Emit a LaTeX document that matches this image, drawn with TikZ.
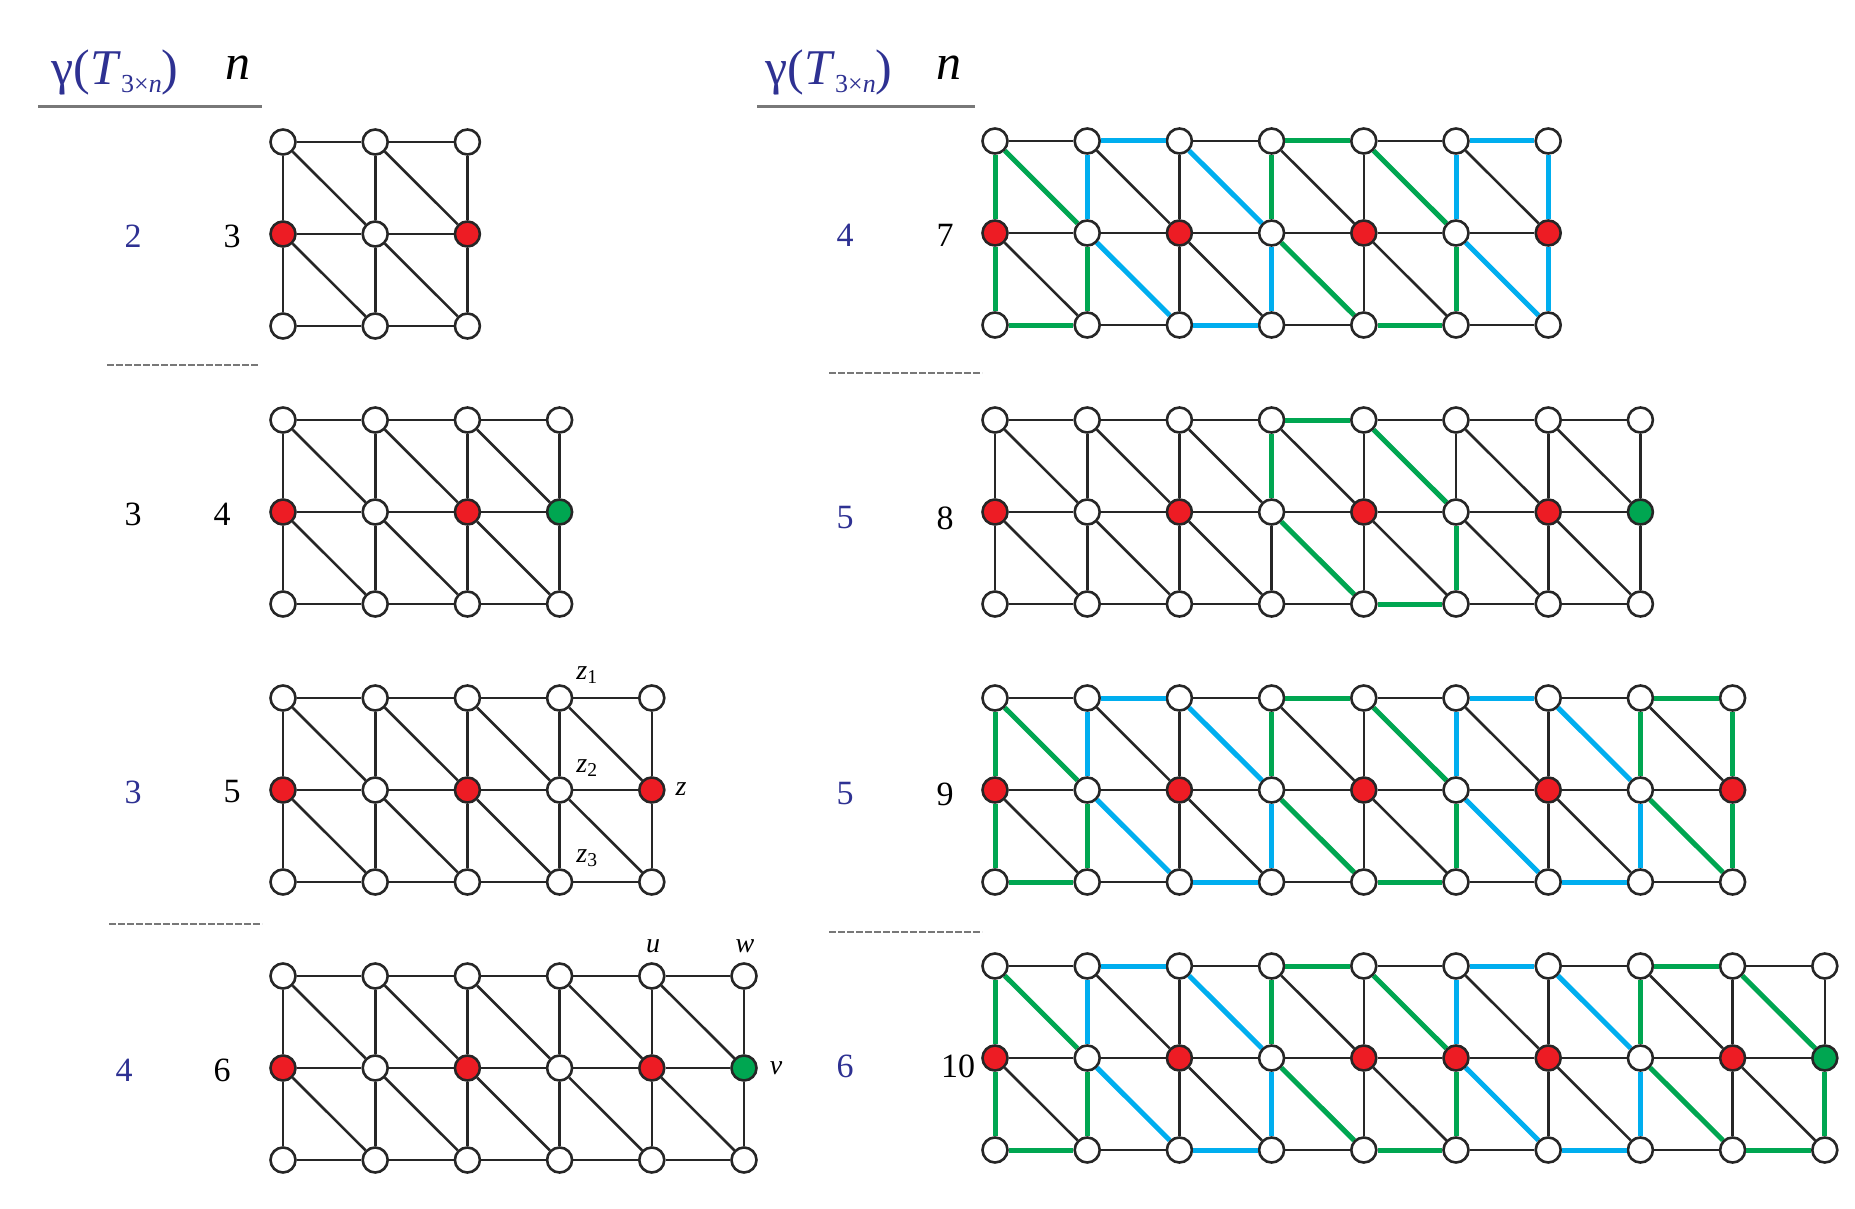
\documentclass[tikz,border=0pt]{standalone}
\usepackage{fontspec}
\setmainfont{Liberation Serif}
\definecolor{vred}{RGB}{237,28,36}
\definecolor{vgreen}{RGB}{0,166,81}
\definecolor{eblue}{RGB}{0,174,239}
\definecolor{lblue}{RGB}{46,49,146}
\definecolor{rulegray}{RGB}{120,120,120}
\newcommand\trigrid[4]{%
  \pgfmathtruncatemacro\nlast{#4-1}%
  \pgfmathtruncatemacro\nprev{#4-2}%
  \foreach \i in {0,...,\nlast}{\foreach \r in {0,1,2}{%
    \node[vtx,/tikz/c-#1-\i-\r/.try] (#1-\i-\r) at ({#2+92.2*\i},{#3+92*\r}) {};}}%
  \foreach \i in {0,...,\nlast}{\draw[bE] (#1-\i-0)--(#1-\i-1); \draw[bE] (#1-\i-1)--(#1-\i-2);}%
  \foreach \i [evaluate=\i as \j using int(\i+1)] in {0,...,\nprev}{%
    \draw[bE] (#1-\i-0)--(#1-\j-0); \draw[bE] (#1-\i-1)--(#1-\j-1); \draw[bE] (#1-\i-2)--(#1-\j-2);
    \draw[bE] (#1-\i-0)--(#1-\j-1); \draw[bE] (#1-\i-1)--(#1-\j-2);}%
}
\newcommand\cedges[3]{\foreach \p/\q in {#3}{\draw[#2] (#1-\p)--(#1-\q);}}
\tikzset{
  vtx/.style={circle,draw=black!85,line width=2.6pt,fill=white,minimum width=25pt,minimum height=25pt,inner sep=0pt},
  bE/.style={black!85,line width=2.6pt},
  gE/.style={vgreen,line width=5pt},
  uE/.style={eblue,line width=5pt},
  rv/.style={fill=vred},
  gv/.style={fill=vgreen},
  num/.style={font=\fontsize{34}{34}\selectfont,inner sep=0pt},
  gnum/.style={num,text=lblue},
  lab/.style={font=\fontsize{28}{28}\selectfont\itshape,inner sep=0pt},
  hdr/.style={font=\fontsize{50}{50}\selectfont,text=lblue,inner sep=0pt},
  hn/.style={font=\fontsize{50}{50}\selectfont\itshape,inner sep=0pt},
  hrule/.style={rulegray,line width=3pt},
  sep/.style={rulegray,line width=2.5pt,dash pattern=on 7pt off 2pt},
  c-L1-0-1/.style=rv, c-L1-2-1/.style=rv,
  c-L2-0-1/.style=rv, c-L2-2-1/.style=rv, c-L2-3-1/.style=gv,
  c-L3-0-1/.style=rv, c-L3-2-1/.style=rv, c-L3-4-1/.style=rv,
  c-L4-0-1/.style=rv, c-L4-2-1/.style=rv, c-L4-4-1/.style=rv, c-L4-5-1/.style=gv,
  c-R1-0-1/.style=rv, c-R1-2-1/.style=rv, c-R1-4-1/.style=rv, c-R1-6-1/.style=rv,
  c-R2-0-1/.style=rv, c-R2-2-1/.style=rv, c-R2-4-1/.style=rv, c-R2-6-1/.style=rv, c-R2-7-1/.style=gv,
  c-R3-0-1/.style=rv, c-R3-2-1/.style=rv, c-R3-4-1/.style=rv, c-R3-6-1/.style=rv, c-R3-8-1/.style=rv,
  c-R4-0-1/.style=rv, c-R4-2-1/.style=rv, c-R4-4-1/.style=rv, c-R4-5-1/.style=rv, c-R4-6-1/.style=rv, c-R4-8-1/.style=rv, c-R4-9-1/.style=gv,
}
\newcommand\hdrtext{γ(\textit{T}\raisebox{-0.35ex}{\fontsize{26}{26}\selectfont 3×\textit{n}})}
\begin{document}
\begin{tikzpicture}[x=1pt,y=-1pt]
\useasboundingbox (0,0) rectangle (1855,1209);
% headers
\node[hdr] (h1) at (115,72) {\hdrtext};
\node[hn] (n1) at (238,68) {n};
\draw[hrule] (38,107)--(262,107);
\node[hdr] (h2) at (829,72) {\hdrtext};
\node[hn] (n2) at (949,68) {n};
\draw[hrule] (757,107)--(975,107);
% separators
\draw[sep] (107,365)--(259,365);
\draw[sep] (109,924)--(262,924);
\draw[sep] (829,373)--(982,373);
\draw[sep] (829,932)--(982,932);
% grids
\trigrid{L1}{283}{142}{3}
\trigrid{L2}{283}{420}{4}
\trigrid{L3}{283}{698}{5}
\trigrid{L4}{283}{976}{6}
\trigrid{R1}{995}{141}{7}
\trigrid{R2}{995}{420}{8}
\trigrid{R3}{995}{698}{9}
\trigrid{R4}{995}{966}{10}
% coloured edges
\cedges{R1}{uE}{1-0/2-0,5-0/6-0,1-0/1-1,5-0/5-1,6-0/6-1,2-0/3-1,3-1/3-2,6-1/6-2,1-1/2-2,5-1/6-2,2-2/3-2}
\cedges{R1}{gE}{3-0/4-0,0-0/0-1,3-0/3-1,0-0/1-1,4-0/5-1,0-1/0-2,1-1/1-2,5-1/5-2,3-1/4-2,0-2/1-2,4-2/5-2}
\cedges{R2}{gE}{3-0/4-0,3-0/3-1,4-0/5-1,3-1/4-2,4-2/5-2,5-1/5-2}
\cedges{R3}{uE}{1-0/2-0,5-0/6-0,1-0/1-1,5-0/5-1,2-0/3-1,6-0/7-1,3-1/3-2,7-1/7-2,1-1/2-2,5-1/6-2,2-2/3-2,6-2/7-2}
\cedges{R3}{gE}{3-0/4-0,7-0/8-0,0-0/0-1,3-0/3-1,7-0/7-1,8-0/8-1,0-0/1-1,4-0/5-1,0-1/0-2,1-1/1-2,5-1/5-2,8-1/8-2,3-1/4-2,7-1/8-2,0-2/1-2,4-2/5-2}
\cedges{R4}{uE}{1-0/2-0,5-0/6-0,1-0/1-1,5-0/5-1,2-0/3-1,6-0/7-1,3-1/3-2,7-1/7-2,1-1/2-2,5-1/6-2,2-2/3-2,6-2/7-2}
\cedges{R4}{gE}{3-0/4-0,7-0/8-0,0-0/0-1,3-0/3-1,7-0/7-1,0-0/1-1,4-0/5-1,8-0/9-1,0-1/0-2,1-1/1-2,5-1/5-2,9-1/9-2,3-1/4-2,7-1/8-2,0-2/1-2,4-2/5-2,8-2/9-2}
% row labels
\node[gnum] (g1) at (133,236) {2};  \node[num] (m1) at (232,236) {3};
\node[num]  (g2) at (133,514) {3};  \node[num] (m2) at (222,514) {4};
\node[gnum] (g3) at (133,792) {3};  \node[num] (m3) at (232,792) {5};
\node[gnum] (g4) at (124,1070) {4}; \node[num] (m4) at (222,1070) {6};
\node[gnum] (g5) at (845,235) {4};  \node[num] (m5) at (945,235) {7};
\node[gnum] (g6) at (845,518) {5};  \node[num] (m6) at (945,518) {8};
\node[gnum] (g7) at (845,794) {5};  \node[num] (m7) at (945,794) {9};
\node[gnum] (g8) at (845,1066) {6}; \node[num] (m8) at (958,1066) {10};
% vertex labels
\node[lab] (z1) at (587,675) {z\textsubscript{\upshape 1}};
\node[lab] (z2) at (587,768) {z\textsubscript{\upshape 2}};
\node[lab] (z3) at (587,858) {z\textsubscript{\upshape 3}};
\node[lab] (zz) at (681,789) {z};
\node[lab] (uu) at (653,946) {u};
\node[lab] (ww) at (745,946) {w};
\node[lab] (vv) at (776,1068) {v};
\end{tikzpicture}
\end{document}
